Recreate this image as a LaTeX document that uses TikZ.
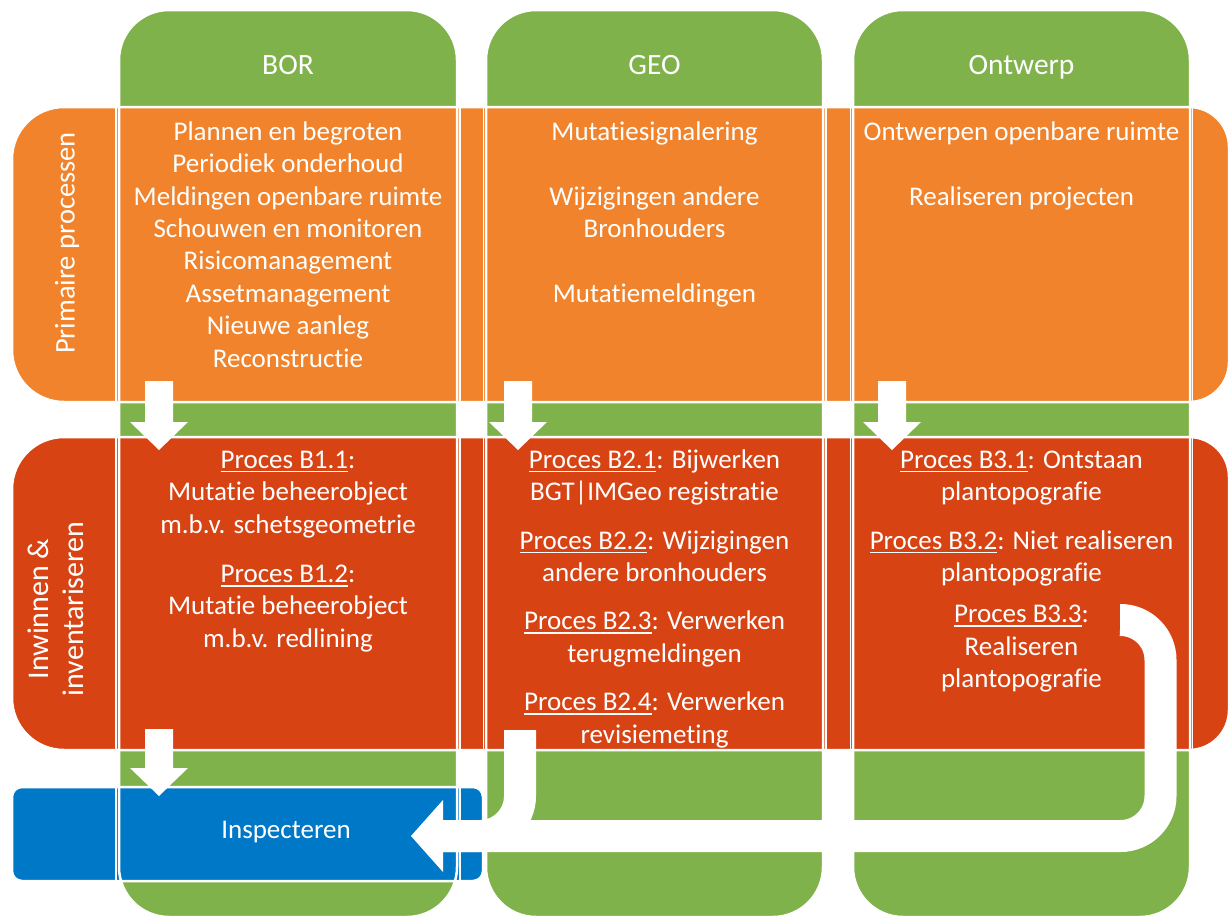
\documentclass[tikz,border=0pt]{standalone}
\usepackage{fontspec}
\setmainfont{Carlito}[Ligatures=NoCommon]
\definecolor{cgreen}{HTML}{7FB24B}
\definecolor{corange}{HTML}{F0832B}
\definecolor{cred}{HTML}{D84314}
\definecolor{cblue}{HTML}{0078C8}
\newcommand\fs{\rule{0pt}{22pt}}
\newcommand\pu[1]{\setbox0=\hbox{#1}\rlap{\rule[-4.2pt]{\wd0}{1.6pt}}\box0}
\begin{document}
\begin{tikzpicture}[x=1pt,y=-1pt,
  colfill/.style={fill=cgreen,rounded corners=50pt},
  colline/.style={draw=white,line width=2.5pt,rounded corners=50pt},
  band/.style={draw=white,line width=2.5pt},
  cellline/.style={draw=white,line width=1.5pt},
  txt/.style={text=white,align=center,inner sep=0pt,anchor=north,font=\fontsize{27}{32.4}\selectfont},
  one/.style={text=white,inner sep=0pt,anchor=base,font=\fontsize{27}{32.4}\selectfont},
  hdr/.style={text=white,inner sep=0pt,anchor=base,font=\fontsize{29.5}{35}\selectfont},
  side/.style={text=white,align=center,inner sep=0pt,rotate=90,font=\fontsize{30}{35}\selectfont},
  flow/.style={draw=white,line width=32pt,rounded corners=40pt},
  blk/.style={fill=white}]

\clip (0,0) rectangle (1229,919);

% green columns
\foreach \a/\b in {119/457,486/823,853/1190}
  \path[colfill] (\a,10) rectangle (\b,917);

% orange band
\path[fill=corange,band] (600,107) [rounded corners=40pt] -- (1229,107) -- (1229,402)
  [rounded corners=52pt] -- (12,402) -- (12,107) [sharp corners] -- cycle;
% red band
\path[fill=cred,band] (600,437) [rounded corners=40pt] -- (1229,437) -- (1229,750)
  [rounded corners=52pt] -- (12,750) -- (12,437) [sharp corners] -- cycle;
% blue band
\path[fill=cblue,band,rounded corners=10pt] (12,787) rectangle (483,881);

% cell separators inside the bands
\foreach \x in {116,460,483.5,826,850.5,1192.5}{
  \draw[cellline] (\x,107) -- (\x,402);
  \draw[cellline] (\x,437) -- (\x,750);
}
\foreach \x in {116,460}
  \draw[cellline] (\x,787) -- (\x,881);

% column outlines
\foreach \a/\b in {119/457,486/823,853/1190}
  \path[colline] (\a,10) rectangle (\b,917);

% headers
\node[hdr] (hBOR) at (288,74) {BOR};
\node[hdr] (hGEO) at (654.5,74) {GEO};
\node[hdr] (hONT) at (1021.5,74) {Ontwerp};

% side labels
\node[side,font=\fontsize{28.5}{35}\selectfont] (prim) at (67,243) {Primaire processen};
\node[side] (inw) at (56,609) {Inwinnen \&\\inventariseren};

% primary processes
\node[txt] (pBOR) at (288,118) {\fs Plannen en begroten\\Periodiek onderhoud\\Meldingen openbare ruimte\\Schouwen en monitoren\\Risicomanagement\\Assetmanagement\\Nieuwe aanleg\\Reconstructie};
\node[txt] (pGEO) at (654.5,118) {\fs Mutatiesignalering\\[32.4pt]Wijzigingen andere\\Bronhouders\\[32.4pt]Mutatiemeldingen};
\node[txt] (pONT) at (1021.5,118) {\fs Ontwerpen openbare ruimte\\[32.4pt]Realiseren projecten};

% acquisition processes
\node[txt] (iBOR) at (288,446) {\fs\pu{Proces B1.1}:\\Mutatie beheerobject\\m.b.v. schetsgeometrie\\[17pt]\pu{Proces B1.2}:\\Mutatie beheerobject\\m.b.v. redlining};
\node[txt] (iGEO) at (654.5,446) {\fs\pu{Proces B2.1}: Bijwerken\\BGT|IMGeo registratie\\[16pt]\pu{Proces B2.2}: Wijzigingen\\andere bronhouders\\[16pt]\pu{Proces B2.3}: Verwerken\\terugmeldingen\\[16pt]\pu{Proces B2.4}: Verwerken\\revisiemeting};
\node[txt] (iONT) at (1021.5,446) {\fs\pu{Proces B3.1}: Ontstaan\\plantopografie\\[16pt]\pu{Proces B3.2}: Niet realiseren\\plantopografie\\[9pt]\pu{Proces B3.3}:\\Realiseren\\plantopografie};

% inspect
\node[one] (insp) at (286,838) {Inspecteren};

% straight block arrows
\foreach \x/\t/\p in {159/381/450,518/381/450,892/381/450,159/729/796}
  \path[blk] (\x-14,\t) -- (\x+14,\t) -- (\x+14,\p-28) -- (\x+29,\p-28) -- (\x,\p)
     -- (\x-29,\p-28) -- (\x-14,\p-28) -- cycle;

% curved arrows to Inspecteren
\coordinate (geoStart) at (520,730);
\coordinate (ontStart) at (1120,620);
\coordinate (headBase) at (443,836);
\coordinate (headTip) at (411,836);
\draw[flow] (geoStart) |- (headBase);
\draw[flow] (ontStart) -- ++(40.5,0) |- (headBase);
\path[blk] (443,800) -- (headTip) -- (443,872) -- cycle;
\end{tikzpicture}
\end{document}
